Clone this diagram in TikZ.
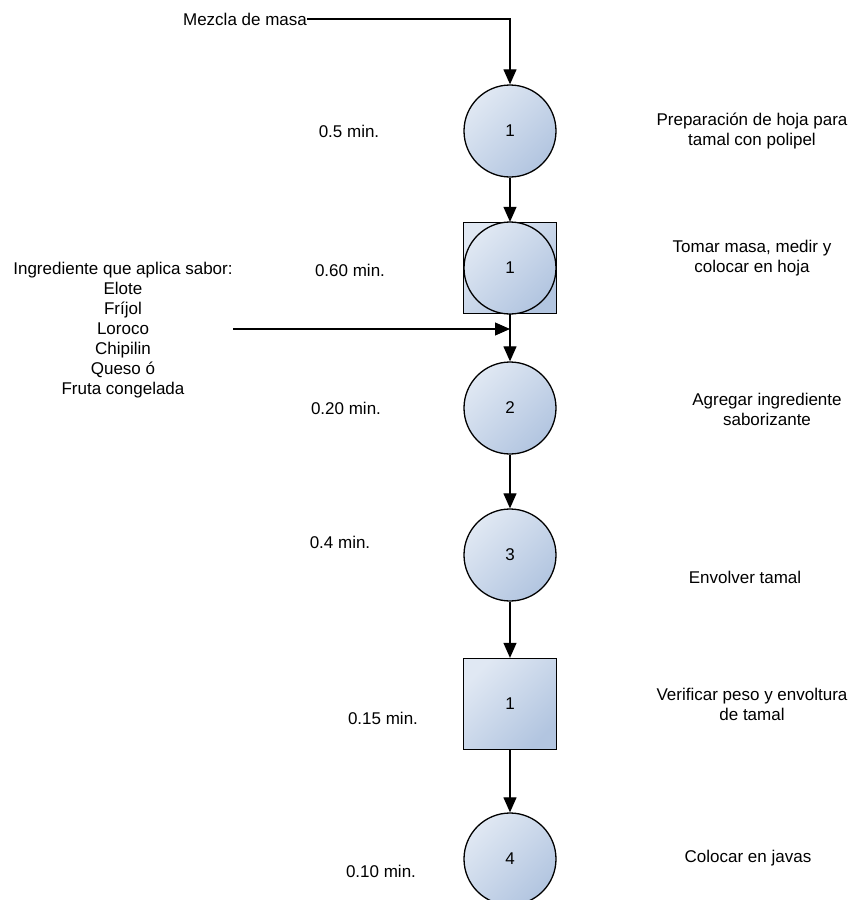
\documentclass[tikz,border=0pt]{standalone}
\usepackage{fontspec}
\setmainfont{Liberation Sans}
\usetikzlibrary{arrows.meta}
\definecolor{opLight}{HTML}{E0E8F3}
\definecolor{opDark}{HTML}{B2C5E0}
\begin{document}
\begin{tikzpicture}[x=1pt,y=-1pt,
  every node/.style={font=\fontsize{17}{20}\selectfont},
  shapefill/.style={draw=black, line width=1.3pt, top color=opLight, bottom color=opDark, shading angle=45},
  opcircle/.style={shapefill, circle, minimum size=92pt, inner sep=0pt},
  opsquare/.style={shapefill, rectangle, minimum width=93pt, minimum height=91pt, inner sep=0pt},
  flow/.style={line width=1.2pt, -{Triangle[length=15pt,width=13pt]}},
  lbl/.style={align=center, inner sep=0pt}
]
\useasboundingbox (0,0) rectangle (854,900);

% process symbols on the main line
\node[opcircle] (c1) at (510,131) {1};
\node[opsquare] (sq1) at (510,268) {};
\node[opcircle] (ci1) at (510,268) {1};
\node[opcircle] (c2) at (510,408) {2};
\node[opcircle] (c3) at (510,555) {3};
\node[opsquare] (sq2) at (510,704) {1};
\node[opcircle] (c4) at (510,859) {4};

% incoming materials
\node[lbl] (mezcla) at (245,19) {Mezcla de masa};
\node[lbl] (ingr) at (123,330) {Ingrediente que aplica sabor:\\Elote\\Fríjol\\Loroco\\Chipilin\\Queso ó\\Fruta congelada};
\coordinate (ingin) at (233,329);

% times
\node[lbl] (t1) at (349,131) {0.5 min.};
\node[lbl] (t2) at (350,270) {0.60 min.};
\node[lbl] (t3) at (346,408) {0.20 min.};
\node[lbl] (t4) at (340,542) {0.4 min.};
\node[lbl] (t5) at (383,718) {0.15 min.};
\node[lbl] (t6) at (381,871) {0.10 min.};

% descriptions
\node[lbl] (d1) at (752,131) {Preparación de hoja para\\tamal con polipel};
\node[lbl] (d2) at (752,258) {Tomar masa, medir y\\colocar en hoja};
\node[lbl] (d3) at (767,409) {Agregar ingrediente\\saborizante};
\node[lbl] (d4) at (745,577) {Envolver tamal};
\node[lbl] (d5) at (752,704) {Verificar peso y envoltura\\de tamal};
\node[lbl] (d6) at (748,858) {Colocar en javas};

% flow lines
\draw[flow] (mezcla.east) -| (c1.north);
\draw[flow] (c1.south) -- (sq1.north);
\draw[flow] (sq1.south) -- (c2.north);
\draw[flow] (ingin) -- (ingin -| sq1.south);
\draw[flow] (c2.south) -- (c3.north);
\draw[flow] (c3.south) -- (sq2.north);
\draw[flow] (sq2.south) -- (c4.north);
\end{tikzpicture}
\end{document}
